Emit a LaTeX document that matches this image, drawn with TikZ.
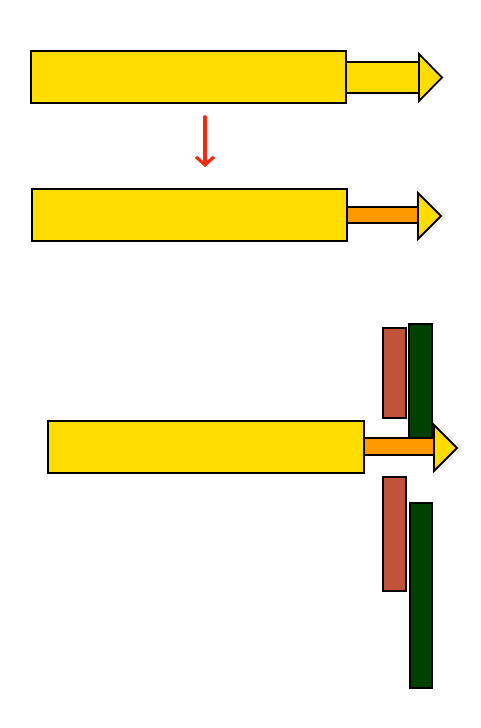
\documentclass[tikz,border=0pt]{standalone}
\usetikzlibrary{arrows.meta}
\definecolor{ylw}{RGB}{255,221,0}
\definecolor{org}{RGB}{255,153,0}
\definecolor{brk}{RGB}{192,83,58}
\definecolor{dgr}{RGB}{0,64,0}
\definecolor{redarr}{RGB}{240,45,15}
\begin{document}
\begin{tikzpicture}[x=1pt,y=-1pt,
  outl/.style={draw=black,line width=1.8pt,line join=miter},
  bar/.style={outl,fill=ylw},
  shaft/.style={outl},
  tip/.style={outl,fill=ylw},
  slab/.style={draw=black,line width=2.4pt,line join=miter}]
\useasboundingbox (0,0) rectangle (480,728);
% --- top arrow ---
\draw[bar] (31,51) rectangle (346,103);
\draw[shaft,fill=ylw] (346,62) rectangle (419,93);
\draw[tip] (419,54) -- (442,77.5) -- (419,101) -- cycle;
% red arrow
\coordinate (ra) at (205,117);
\coordinate (rb) at (205,167);
\draw[redarr,line width=3.6pt,-{Straight Barb[length=8pt,width=18pt,line width=3.2pt]},line cap=round] (ra) -- (rb);
% --- middle arrow ---
\draw[bar] (32,189) rectangle (347,241);
\draw[shaft,fill=org] (347,207) rectangle (418,223);
\draw[tip] (418,193) -- (441,216) -- (418,239) -- cycle;
% --- bottom arrow ---
\draw[bar] (48,421) rectangle (364,473);
\draw[shaft,fill=org] (364,438) rectangle (434,455);
\draw[slab,fill=brk] (383,328) rectangle (406,418);
\draw[slab,fill=dgr] (409,324) rectangle (432,438);
\draw[tip] (434,425) -- (457,448) -- (434,471) -- cycle;
\draw[slab,fill=brk] (383,477) rectangle (406,591);
\draw[slab,fill=dgr] (410,503) rectangle (432,688);
\end{tikzpicture}
\end{document}
